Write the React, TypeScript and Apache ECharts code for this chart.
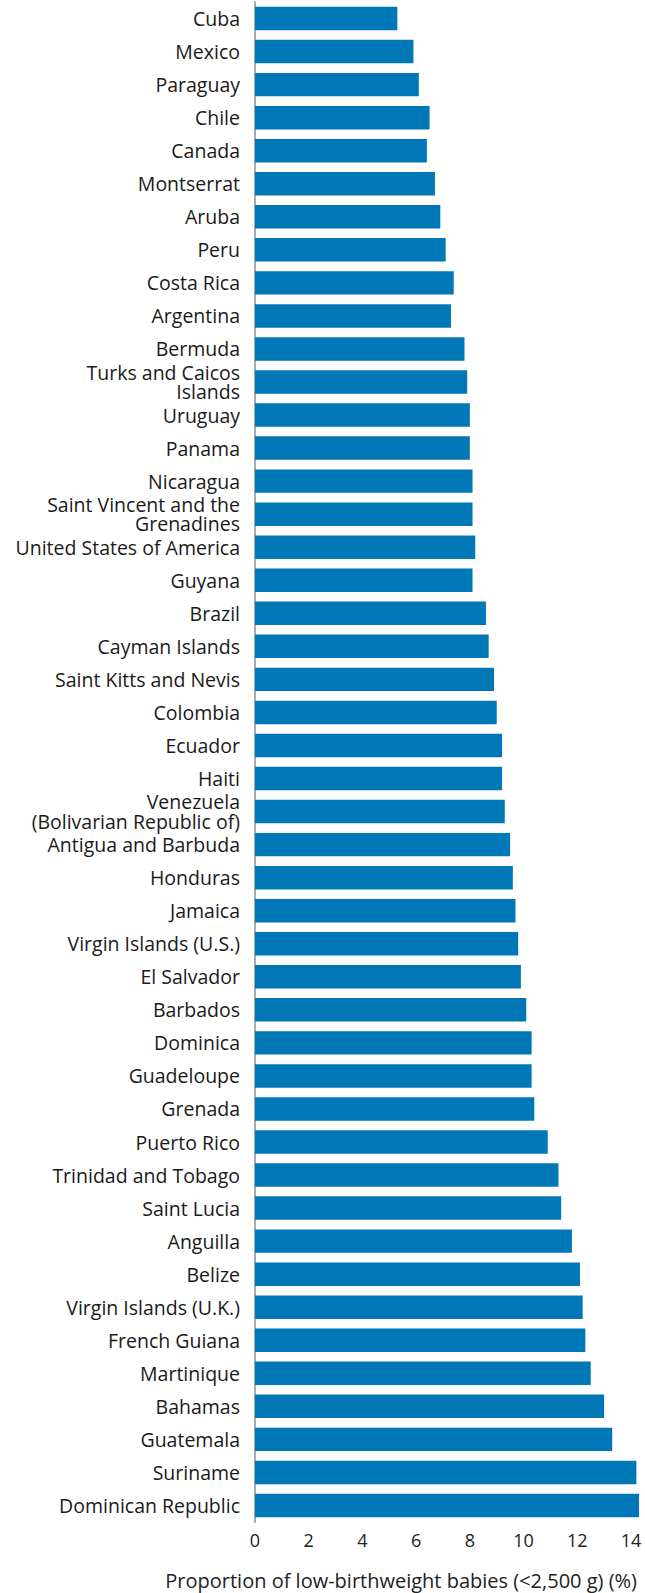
import React, { useEffect, useRef } from "react";
import * as echarts from "echarts";

const categories = [
  "Cuba", "Mexico", "Paraguay", "Chile", "Canada", "Montserrat", "Aruba", "Peru",
  "Costa Rica", "Argentina", "Bermuda", "Turks and Caicos\nIslands", "Uruguay", "Panama",
  "Nicaragua", "Saint Vincent and the\nGrenadines", "United States of America", "Guyana",
  "Brazil", "Cayman Islands", "Saint Kitts and Nevis", "Colombia", "Ecuador", "Haiti",
  "Venezuela\n(Bolivarian Republic of)", "Antigua and Barbuda", "Honduras", "Jamaica",
  "Virgin Islands (U.S.)", "El Salvador", "Barbados", "Dominica", "Guadeloupe", "Grenada",
  "Puerto Rico", "Trinidad and Tobago", "Saint Lucia", "Anguilla", "Belize",
  "Virgin Islands (U.K.)", "French Guiana", "Martinique", "Bahamas", "Guatemala",
  "Suriname", "Dominican Republic",
];

const values = [
  5.3, 5.9, 6.1, 6.5, 6.4, 6.7, 6.9, 7.1,
  7.4, 7.3, 7.8, 7.9, 8.0, 8.0,
  8.1, 8.1, 8.2, 8.1,
  8.6, 8.7, 8.9, 9.0, 9.2, 9.2,
  9.3, 9.5, 9.6, 9.7,
  9.8, 9.9, 10.1, 10.3, 10.3, 10.4,
  10.9, 11.3, 11.4, 11.8, 12.1,
  12.2, 12.3, 12.5, 13.0, 13.3,
  14.2, 14.3,
];

const xTicks = { min: 0, max: 14, interval: 2 };
const xTitle = "Proportion of low-birthweight babies (<2,500 g) (%)";

export default function App() {
  const ref = useRef<HTMLDivElement>(null);
  useEffect(() => {
    document.body.style.margin = "0";
    if (!ref.current) return;
    const chart = echarts.init(ref.current, null, { renderer: "svg" });
    const font = "'Open Sans', sans-serif";
    chart.setOption({
      animation: false,
      grid: { left: 255, right: 14, top: 2, bottom: 71, containLabel: false },
      xAxis: {
        type: "value",
        min: xTicks.min,
        max: xTicks.max,
        interval: xTicks.interval,
        splitLine: { show: false },
        axisLine: { show: false },
        axisTick: { show: false },
        axisLabel: { fontSize: 18, color: "#222", fontFamily: font, margin: 9 },
      },
      yAxis: {
        type: "category",
        inverse: true,
        data: categories,
        axisLine: { show: true, lineStyle: { color: "#aaaaaa", width: 2 } },
        axisTick: { show: false },
        axisLabel: {
          fontSize: 19.5,
          lineHeight: 19.5,
          color: "#1a1a1a",
          fontFamily: font,
          margin: 15,
          align: "right",
        },
      },
      graphic: [
        {
          type: "text",
          right: 8,
          top: 1570,
          style: { text: xTitle, fill: "#222", font: `20px ${font}` },
        },
      ],
      series: [
        {
          type: "bar",
          data: values,
          barCategoryGap: "29%",
          clip: false,
          itemStyle: { color: "#0078B8" },
        },
      ],
    });
    return () => chart.dispose();
  }, []);
  return <div ref={ref} style={{ width: 645, height: 1593 }} />;
}
